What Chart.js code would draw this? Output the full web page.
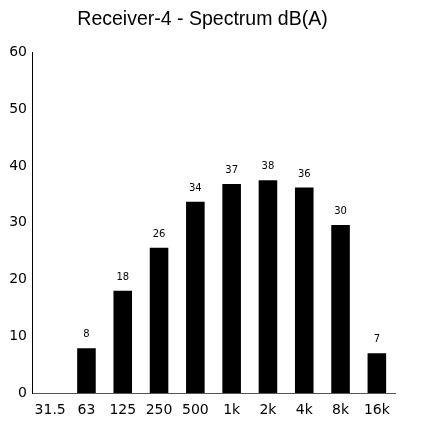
<!DOCTYPE html>
<html><head><meta charset="utf-8">
<script src="https://cdn.jsdelivr.net/npm/chart.js@4/dist/chart.umd.min.js"></script>
<style>html,body{margin:0;padding:0;background:#fff}#wrap{width:424px;height:421px}</style>
</head><body><div id="wrap"><canvas id="c" width="424" height="421"></canvas></div>
<script>
const categories = ["31.5","63","125","250","500","1k","2k","4k","8k","16k"];
const levels = [null, 7.9, 18.0, 25.6, 33.7, 36.8, 37.5, 36.2, 29.6, 7.0];
const yTicks = [0,10,20,30,40,50,60];
const FONT = '"DejaVu Sans", Verdana, sans-serif';
const TFONT = '"Liberation Sans", Arial, sans-serif';

const valueLabels = {
  id:'valueLabels',
  afterDatasetsDraw(chart){
    const ctx = chart.ctx;
    const meta = chart.getDatasetMeta(0);
    ctx.save();
    ctx.font = '10px ' + FONT;
    ctx.fillStyle = '#000';
    ctx.textAlign = 'center';
    ctx.textBaseline = 'alphabetic';
    meta.data.forEach((bar,i)=>{
      const v = levels[i];
      if (v === null) return;
      ctx.fillText(String(Math.round(v)), bar.x, bar.y - 11);
    });
    ctx.restore();
  }
};

new Chart(document.getElementById('c'), {
  type:'bar',
  data:{labels:categories, datasets:[{data:levels, backgroundColor:'#000', borderWidth:0, barPercentage:0.64, categoryPercentage:0.8}]},
  options:{
    responsive:false, animation:false,
    layout:{padding:{left:10,right:29,top:0,bottom:0}},
    plugins:{
      legend:{display:false}, tooltip:{enabled:false},
      title:{display:true, text:'Receiver-4 - Spectrum dB(A)', color:'#000',
        font:{family:TFONT, size:19.5, weight:'normal'}, padding:{top:8,bottom:21}}
    },
    scales:{
      x:{grid:{display:false, drawTicks:false}, border:{color:'#555', width:1},
        afterFit(s){ s.height = 28; },
        ticks:{color:'#000', padding:9, maxRotation:0, minRotation:0, autoSkip:false, font:{family:FONT, size:14}}},
      y:{min:0, max:60, afterBuildTicks(ax){ax.ticks = yTicks.map(v=>({value:v}));},
        afterFit(s){ s.width = 22; },
        grid:{display:false, drawTicks:false}, border:{color:'#000', width:1, dash:[1,2]},
        ticks:{color:'#000', padding:5, font:{family:FONT, size:14}}}
    }
  },
  plugins:[valueLabels]
});
</script></body></html>
